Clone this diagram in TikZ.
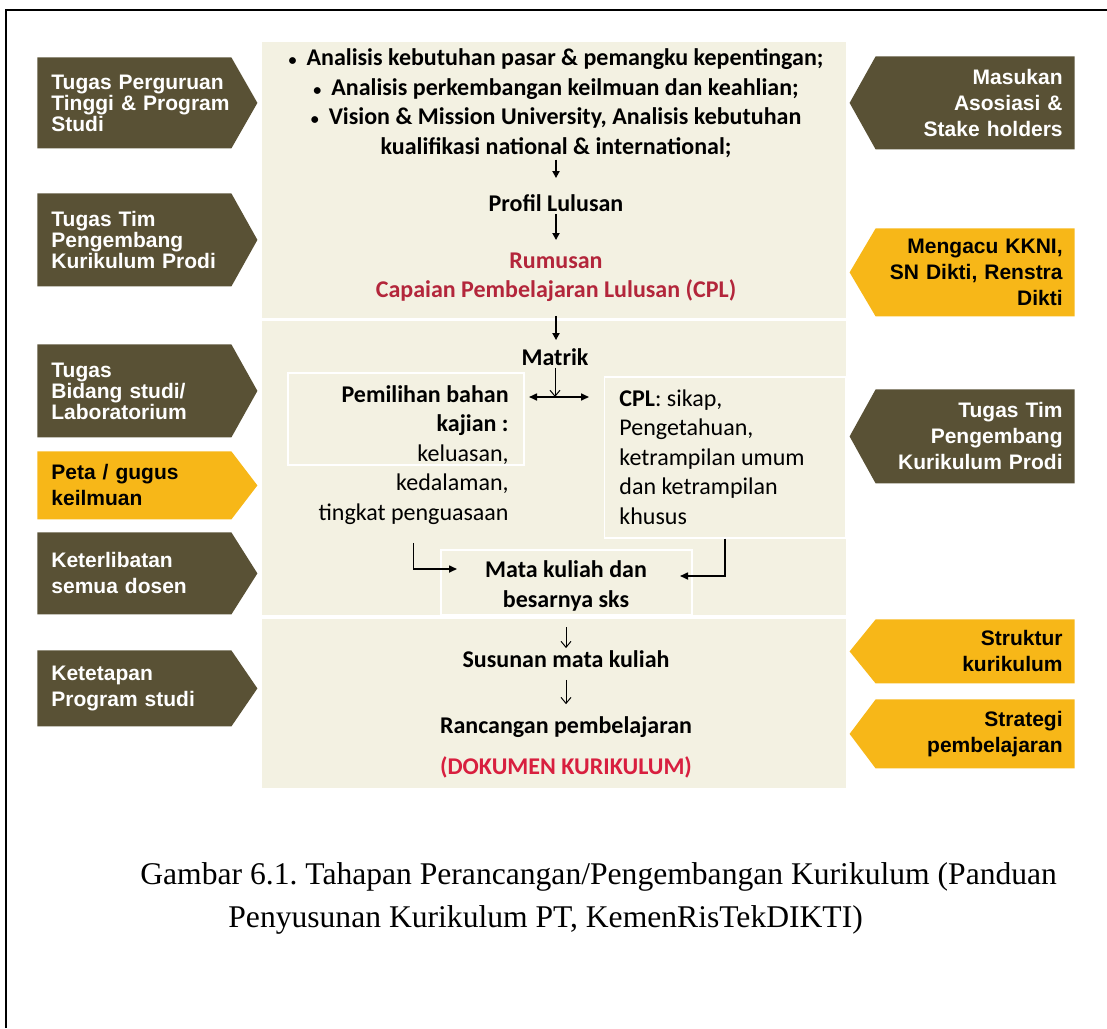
\documentclass[tikz,border=0pt]{standalone}
\usepackage{fontspec}
\setmainfont{Liberation Serif}
\newfontfamily\arialfont{Liberation Sans}
\newfontfamily\calfont{Carlito}
\usetikzlibrary{arrows.meta}
\frenchspacing

\definecolor{tagolive}{HTML}{595135}
\definecolor{tagyellow}{HTML}{F7B718}
\definecolor{panelbg}{HTML}{F3F1E2}
\definecolor{cplred}{HTML}{B3263B}
\definecolor{dokred}{HTML}{D81F3F}

\newcommand{\tagfont}{\arialfont\bfseries\fontsize{10.5}{13}\selectfont}
\newcommand{\tagfonttight}{\arialfont\bfseries\fontsize{10.5}{10.5}\selectfont}
\newcommand{\midfont}{\calfont\bfseries\fontsize{12}{14.75}\selectfont}
\newcommand{\dotitem}{{\fontsize{8}{8}\selectfont\textbullet}\hspace{5pt}}

\tikzset{
  tagL/.style={anchor=north west, minimum width=110pt, inner xsep=7pt, text width=96pt, align=left, font=\tagfont,
    path picture={\fill[#1] (path picture bounding box.north west) -- ([xshift=-13pt]path picture bounding box.north east) -- (path picture bounding box.east) -- ([xshift=-13pt]path picture bounding box.south east) -- (path picture bounding box.south west) -- cycle;}},
  tagR/.style={anchor=north east, minimum width=112.5pt, inner xsep=6pt, text width=100.5pt, align=right, font=\tagfont,
    path picture={\fill[#1] (path picture bounding box.north east) -- ([xshift=13pt]path picture bounding box.north west) -- (path picture bounding box.west) -- ([xshift=13pt]path picture bounding box.south west) -- (path picture bounding box.south east) -- cycle;}},
  midtext/.style={font=\midfont, align=center, inner sep=1pt},
  subbox/.style={draw=white, line width=0.7pt},
  fatarr/.style={-{Triangle[length=3.5pt,width=3.5pt]}, line width=1pt},
  thinarr/.style={-{Straight Barb[length=3pt,width=5pt]}, line width=0.5pt},
  elbowarr/.style={-{Triangle[length=4pt,width=3.5pt]}, line width=0.8pt},
}

\begin{document}
\begin{tikzpicture}[x=0.5pt,y=-0.5pt]
  \useasboundingbox (0,0) rectangle (1107,1028);
  \draw[line width=1pt] (6,1028) -- (6,10) -- (1107,10);

  % panel
  \fill[panelbg] (262,42) rectangle (846,318);
  \fill[panelbg] (262,321) rectangle (846,615);
  \fill[panelbg] (262,619) rectangle (846,788);
  \node[subbox, minimum width=118pt, minimum height=46pt] (pilihbox) at (406,419) {};
  \node[subbox, minimum width=120.5pt, minimum height=80.5pt] (cplbox) at (725,457.5) {};
  \node[subbox, minimum width=125.5pt, minimum height=32.5pt] (mkbox) at (566.5,582.5) {};

  % left tags
  \node[tagL=tagolive, text=white, minimum height=45.5pt, font=\tagfonttight] (tugasPT) at (37,57) {Tugas Perguruan\\Tinggi \& Program\\Studi};
  \node[tagL=tagolive, text=white, minimum height=46.5pt, font=\tagfonttight] (tugasTimL) at (37,193) {Tugas Tim\\Pengembang\\Kurikulum Prodi};
  \node[tagL=tagolive, text=white, minimum height=46.5pt, font=\tagfonttight] (tugasBidang) at (37,344) {Tugas\\Bidang studi/\\Laboratorium};
  \node[tagL=tagyellow, text=black, minimum height=34pt] (peta) at (37,451) {Peta / gugus\\keilmuan};
  \node[tagL=tagolive, text=white, minimum height=41pt] (libat) at (37,532) {Keterlibatan\\semua dosen};
  \node[tagL=tagolive, text=white, minimum height=38pt] (tetap) at (37,650) {Ketetapan\\Program studi};

  % right tags
  \node[tagR=tagolive, text=white, minimum height=46.5pt] (masukan) at (1075,56) {Masukan\\Asosiasi \&\\Stake holders};
  \node[tagR=tagyellow, text=black, minimum height=44pt] (acu) at (1075,228) {Mengacu KKNI,\\SN Dikti, Renstra\\Dikti};
  \node[tagR=tagolive, text=white, minimum height=47pt] (tugasTimR) at (1075,389) {Tugas Tim\\Pengembang\\Kurikulum Prodi};
  \node[tagR=tagyellow, text=black, minimum height=32pt] (struktur) at (1075,619) {Struktur\\kurikulum};
  \node[tagR=tagyellow, text=black, minimum height=34.5pt] (strategi) at (1075,699) {Strategi\\pembelajaran};

  % center column
  \node[midtext] (list) at (556,103) {\dotitem Analisis kebutuhan pasar \& pemangku kepentingan;\\\dotitem Analisis perkembangan keilmuan dan keahlian;\\\dotitem Vision \& Mission University, Analisis kebutuhan\\kualifikasi national \& international;};
  \node[midtext] (profil) at (556,203) {Profil Lulusan};
  \node[midtext, text=cplred] (rumusan) at (556,277) {Rumusan\\Capaian Pembelajaran Lulusan (CPL)};
  \node[midtext] (matrik) at (555,357) {Matrik};
  \node[midtext, align=right, anchor=east] (kajian) at (511,455) {Pemilihan bahan\\kajian :\\\mdseries keluasan,\\\mdseries kedalaman,\\\mdseries tingkat penguasaan};
  \node[midtext, align=left, anchor=west, font=\midfont\mdseries] (cpl) at (617,457) {\bfseries CPL\mdseries: sikap,\\Pengetahuan,\\ketrampilan umum\\dan ketrampilan\\khusus};
  \node[midtext] (mk) at (566,586) {Mata kuliah dan\\besarnya sks};
  \node[midtext] (susun) at (566,659) {Susunan mata kuliah};
  \node[midtext] (rancang) at (566,727) {Rancangan pembelajaran};
  \node[midtext, text=dokred] (dok) at (566,767) {(DOKUMEN KURIKULUM)};

  \coordinate (hl) at (529,397);
  \coordinate (hr) at (589,397);
  \coordinate (mkL) at (457,569);
  \coordinate (mkR) at (680,576);

  \draw[fatarr, shorten >=7pt] (list) -- (profil);
  \draw[fatarr, shorten >=5pt] (profil) -- (rumusan);
  \draw[fatarr, shorten <=6pt, shorten >=3pt] (rumusan.south) -- (rumusan.south |- matrik.north);
  \draw[thinarr] (matrik.south) -- (matrik.south |- hl);
  \draw[elbowarr, {Triangle[length=4pt,width=3.5pt]}-{Triangle[length=4pt,width=3.5pt]}] (hl) -- (hr);
  \draw[elbowarr, shorten <=8pt] (kajian.south) |- (mkL);
  \draw[elbowarr] (cplbox.south) |- (mkR);
  \draw[thinarr, shorten <=7pt] (mk) -- (susun);
  \draw[thinarr, shorten <=5pt, shorten >=5pt] (susun) -- (rancang);

  % caption
  \node[anchor=west, inner sep=0pt, font=\fontsize{15.8}{19}\selectfont] (cap1) at (140,877) {Gambar 6.1. Tahapan Perancangan/Pengembangan Kurikulum (Panduan};
  \node[anchor=west, inner sep=0pt, font=\fontsize{15.8}{19}\selectfont] (cap2) at (228,920) {Penyusunan Kurikulum PT, KemenRisTekDIKTI)};
\end{tikzpicture}
\end{document}
